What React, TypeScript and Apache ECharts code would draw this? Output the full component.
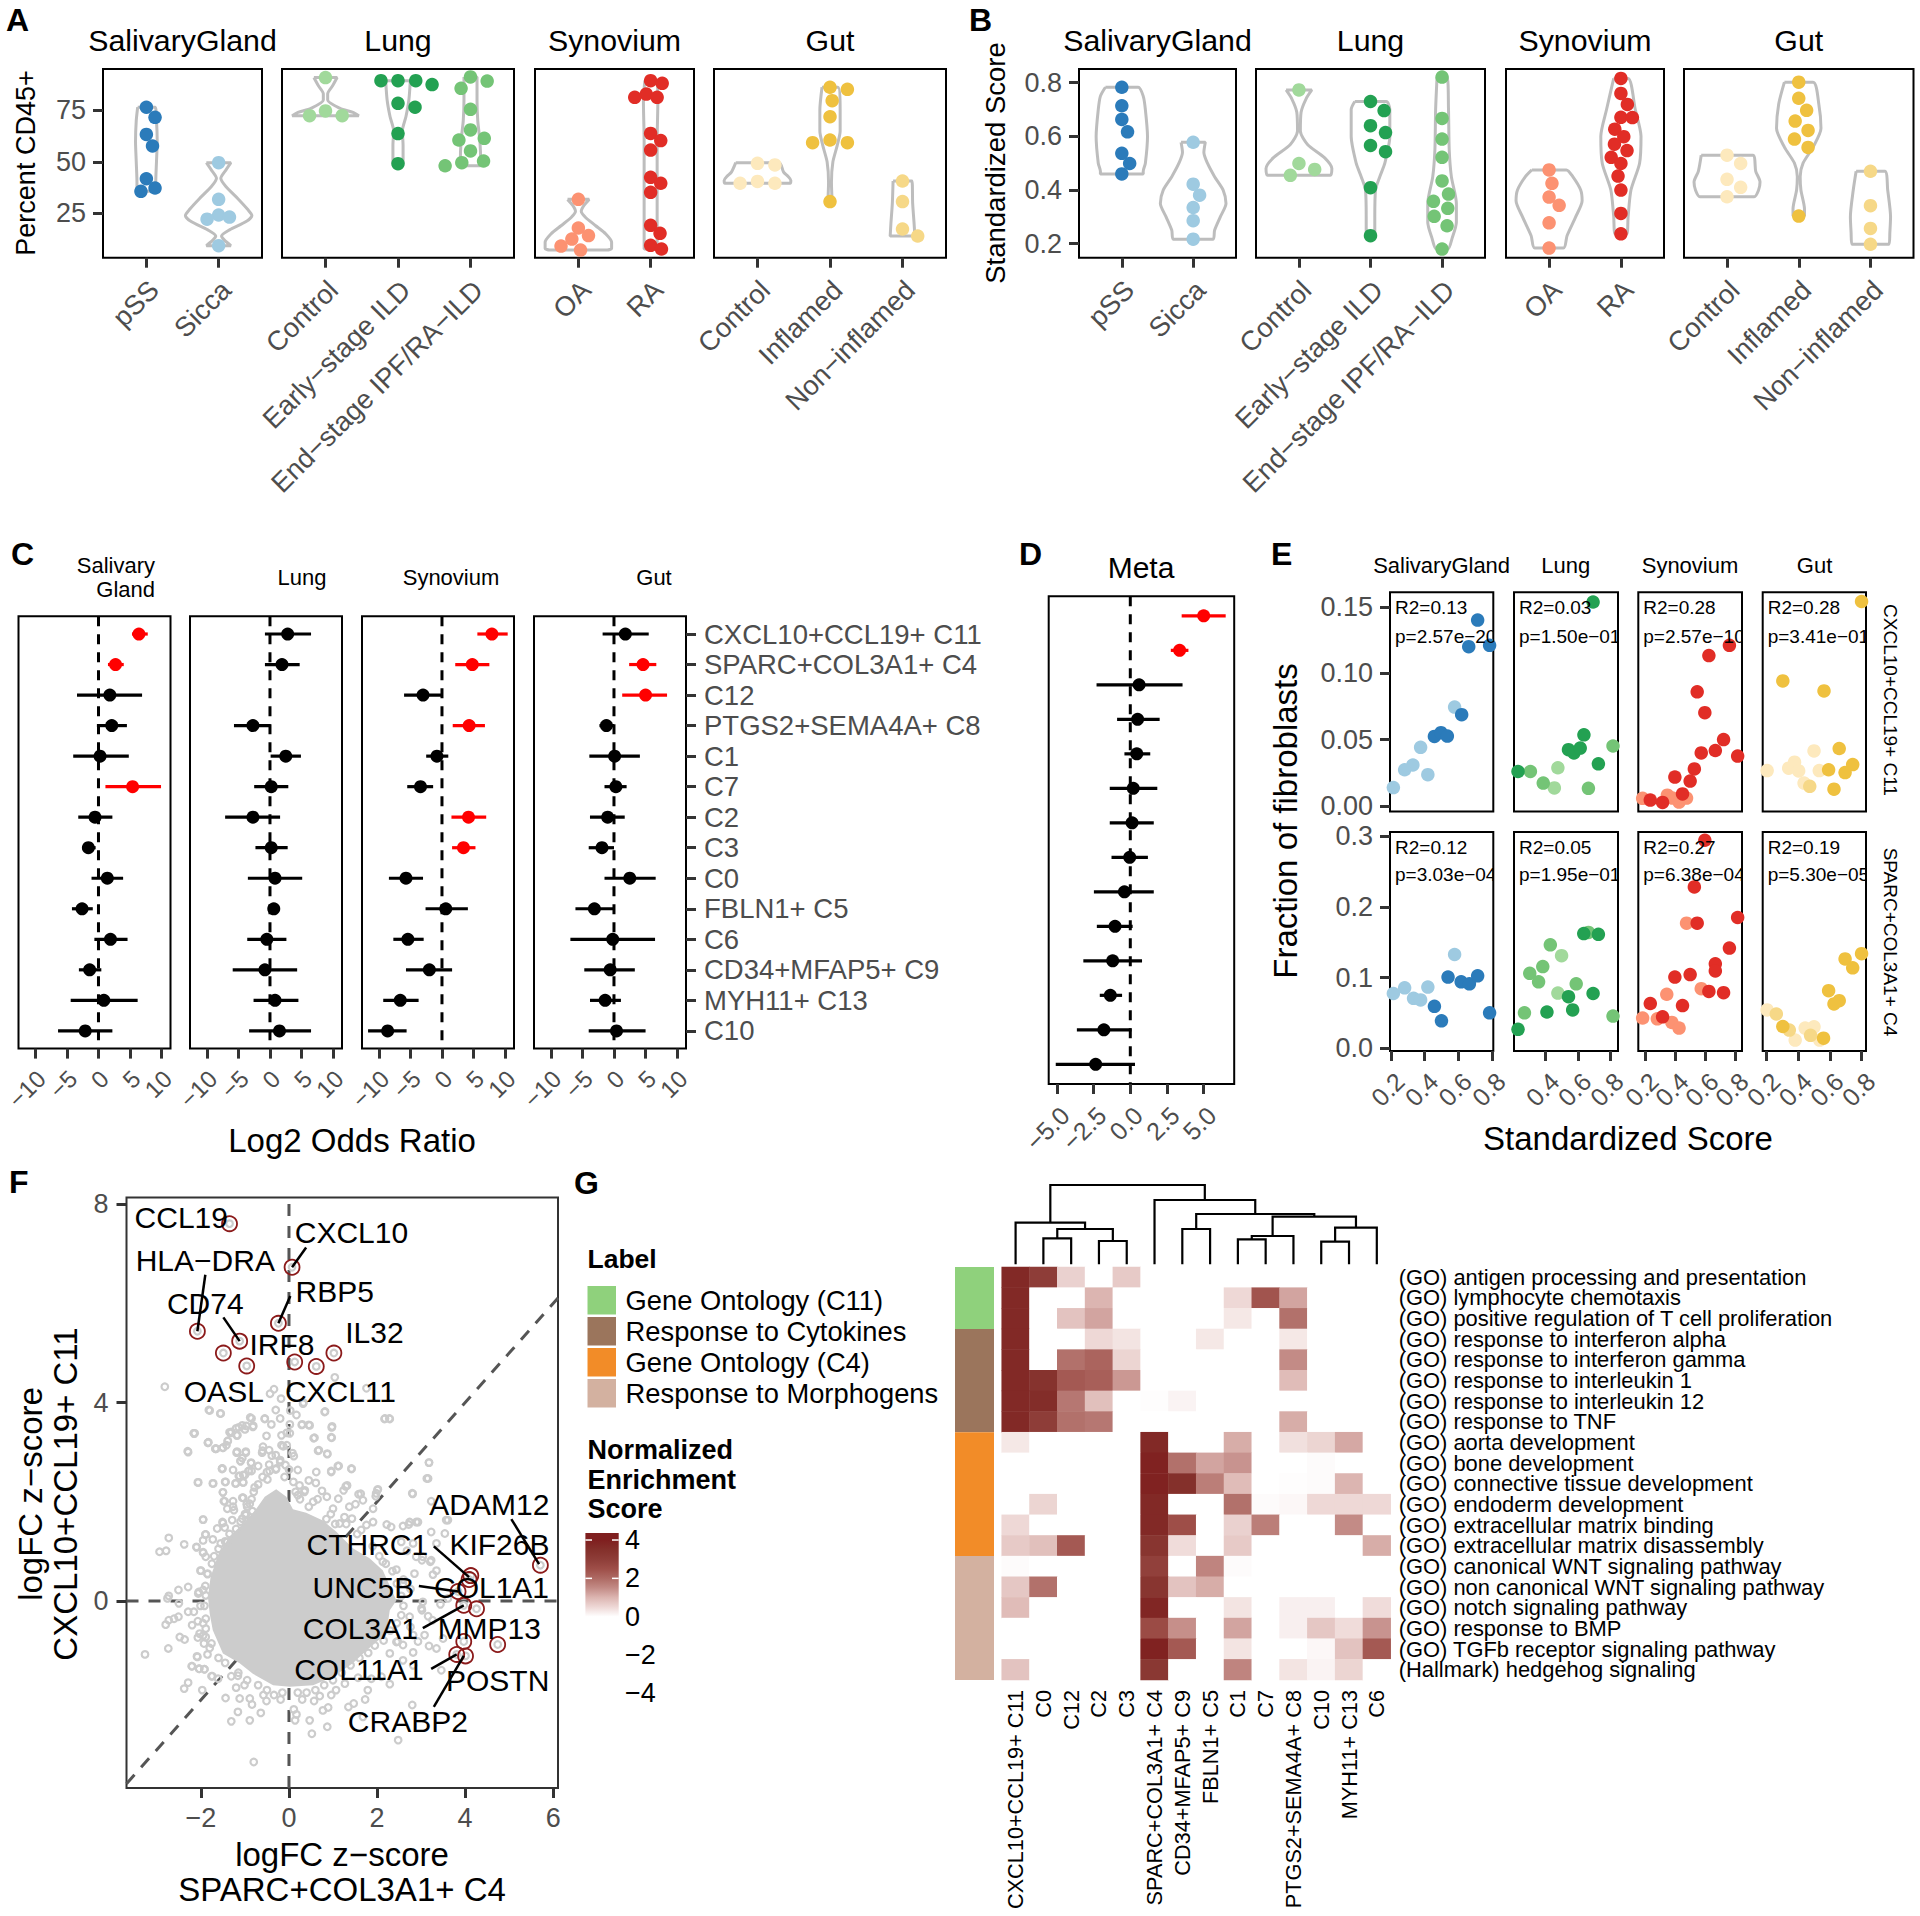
import React, { useEffect, useRef } from "react";
import * as echarts from "echarts";

const FONT = "Liberation Sans, Arial, sans-serif";
const MINUS = "\u2212";

const tissueTitles = ["SalivaryGland", "Lung", "Synovium", "Gut"];
const conditionLabels = [
  ["pSS", "Sicca"],
  ["Control", "Early\u2212stage ILD", "End\u2212stage IPF/RA\u2212ILD"],
  ["OA", "RA"],
  ["Control", "Inflamed", "Non\u2212inflamed"],
];
const conditionColors = [
  ["#2b7bba", "#9ecae1"],
  ["#a1d99b", "#23a152", "#74c476"],
  ["#fc9272", "#e12d26"],
  ["#fde9bd", "#efc13f", "#f6d887"],
];

// Panel A: [offset from the category, percent CD45+]
const aSalivaryPoints = [
  [[0, 76.5], [0.12, 71.6], [0, 63.3], [0.085, 57.7], [0, 41.8], [0.12, 37.3], [-0.075, 35.7]],
  [[0, 49.6], [0, 31.8], [0, 24.2], [-0.16, 22.2], [0.15, 23.2], [0, 9.3]],
];
const aLungPoints = [
  [[0, 90.9], [-0.22, 72.4], [0, 74.7], [0.23, 72.4]],
  [[-0.235, 89.4], [0, 89.4], [0.245, 89.4], [0.47, 87.5], [0, 78.4], [0.235, 76.5], [0, 63.7], [0, 49.1]],
  [[0, 91.2], [0.23, 89.2], [-0.13, 85.7], [0, 75.5], [0, 65.5], [-0.16, 60.6], [0.19, 61.4], [0, 55.3], [-0.12, 49.6], [0.18, 50.4], [-0.35, 48.1]],
];
const aSynoviumPoints = [
  [[0, 31.8], [0, 17.9], [0.14, 14.2], [-0.09, 12.5], [-0.24, 9.1], [0.03, 7.2]],
  [[0, 89.4], [0.16, 88.1], [-0.06, 82.9], [-0.22, 81.3], [0.09, 81.3], [0, 63.8], [0.14, 60.3], [0, 55.7], [0, 42.5], [0.14, 39.6], [0, 35.2], [0, 19.2], [0.13, 15.3], [0, 9.5], [0.15, 7.7]],
];
const aGutPoints = [
  [[0, 49.3], [0.24, 48.5], [-0.24, 39.6], [0, 40.5], [0.24, 39.6]],
  [[0, 86.2], [0.24, 85.2], [0.03, 79.7], [0, 71.9], [0, 60.6], [-0.24, 59.3], [0.24, 59.3], [0, 30.7]],
  [[0, 40.7], [0, 30.7], [0, 17.4], [0.21, 14]],
];
// Violin outlines: [value, half width]
const aSalivaryViolins = [
  [[76.5, 0.12], [70, 0.14], [60, 0.15], [50, 0.14], [40, 0.13], [35.7, 0.13]],
  [[49.6, 0.17], [46, 0.1], [42, 0.03], [38, 0.1], [32, 0.27], [27, 0.4], [24, 0.46], [21, 0.38], [17, 0.15], [14, 0.04], [12, 0.08], [9.3, 0.17]],
];
const aLungViolins = [
  [[90.9, 0.16], [87, 0.1], [83, 0.03], [80, 0.03], [76, 0.2], [74, 0.38], [72.4, 0.46]],
  [[89.4, 0.17], [80, 0.15], [72, 0.11], [65, 0.06], [58, 0.07], [49.1, 0.07]],
  [[91.2, 0.09], [80, 0.09], [70, 0.1], [60, 0.13], [50, 0.14], [48.1, 0.14]],
];
const aSynoviumViolins = [
  [[31.8, 0.15], [29, 0.08], [26, 0.04], [23, 0.1], [19, 0.24], [15, 0.38], [11, 0.46], [8, 0.46], [7.2, 0.4]],
  [[89.4, 0.08], [80, 0.1], [60, 0.09], [40, 0.09], [20, 0.09], [7.7, 0.09]],
];
const aGutViolins = [
  [[49.6, 0.3], [45, 0.36], [43, 0.42], [41, 0.46], [39.6, 0.45]],
  [[86.2, 0.11], [75, 0.14], [65, 0.14], [58, 0.1], [50, 0.04], [40, 0.02], [30.7, 0.03]],
  [[40.7, 0.13], [30, 0.14], [20, 0.16], [14, 0.17]],
];

// Panel B
const bSalivaryPoints = [
  [[0, 0.783], [0, 0.714], [0, 0.663], [0.08, 0.617], [0, 0.537], [0.11, 0.499], [0, 0.46]],
  [[0, 0.578], [0, 0.422], [0.09, 0.381], [0, 0.335], [0, 0.286], [0, 0.217]],
];
const bLungPoints = [
  [[0, 0.773], [0, 0.499], [0.22, 0.477], [-0.12, 0.455]],
  [[0, 0.73], [0.19, 0.696], [0, 0.64], [0.21, 0.614], [0, 0.566], [0.21, 0.543], [0, 0.409], [0, 0.23]],
  [[0, 0.821], [0, 0.667], [0, 0.59], [0, 0.522], [0, 0.434], [0.09, 0.385], [-0.12, 0.358], [0.08, 0.332], [-0.11, 0.302], [0.07, 0.267], [0, 0.18]],
];
const bSynoviumPoints = [
  [[0, 0.475], [0.04, 0.425], [0, 0.374], [0.14, 0.343], [0, 0.278], [0, 0.184]],
  [[0, 0.816], [0, 0.76], [0.09, 0.719], [0, 0.671], [0.16, 0.67], [-0.085, 0.627], [0.04, 0.599], [-0.09, 0.571], [0.085, 0.547], [-0.135, 0.522], [0, 0.499], [-0.04, 0.452], [0, 0.4], [0, 0.313], [0, 0.237]],
];
const bGutPoints = [
  [[0, 0.53], [0.19, 0.499], [0, 0.44], [0.19, 0.41], [0, 0.375]],
  [[0, 0.802], [0, 0.742], [0.11, 0.697], [-0.05, 0.657], [0.13, 0.622], [-0.06, 0.59], [0.13, 0.559], [0, 0.303]],
  [[0, 0.47], [0, 0.342], [0, 0.257], [0, 0.198]],
];
const bSalivaryViolins = [
  [[0.783, 0.23], [0.75, 0.3], [0.7, 0.33], [0.6, 0.36], [0.5, 0.33], [0.47, 0.3], [0.46, 0.3]],
  [[0.578, 0.17], [0.54, 0.15], [0.5, 0.2], [0.45, 0.3], [0.4, 0.42], [0.35, 0.46], [0.3, 0.38], [0.25, 0.3], [0.217, 0.28]],
];
const bLungViolins = [
  [[0.773, 0.18], [0.74, 0.1], [0.69, 0.03], [0.62, 0.02], [0.57, 0.12], [0.52, 0.36], [0.48, 0.46], [0.455, 0.44]],
  [[0.73, 0.22], [0.7, 0.27], [0.6, 0.27], [0.5, 0.2], [0.45, 0.13], [0.4, 0.07], [0.3, 0.06], [0.23, 0.06]],
  [[0.821, 0.07], [0.7, 0.09], [0.55, 0.1], [0.45, 0.13], [0.35, 0.2], [0.28, 0.2], [0.22, 0.14], [0.18, 0.08]],
];
const bSynoviumViolins = [
  [[0.475, 0.24], [0.45, 0.33], [0.4, 0.44], [0.36, 0.46], [0.3, 0.37], [0.23, 0.25], [0.184, 0.2]],
  [[0.816, 0.1], [0.7, 0.2], [0.6, 0.28], [0.5, 0.26], [0.4, 0.14], [0.3, 0.1], [0.237, 0.08]],
];
const bGutViolins = [
  [[0.53, 0.36], [0.47, 0.4], [0.43, 0.46], [0.4, 0.44], [0.375, 0.38]],
  [[0.802, 0.2], [0.72, 0.28], [0.63, 0.31], [0.56, 0.2], [0.5, 0.06], [0.45, 0.02], [0.4, 0.03], [0.33, 0.08], [0.303, 0.08]],
  [[0.47, 0.2], [0.4, 0.24], [0.3, 0.28], [0.24, 0.27], [0.198, 0.26]],
];

// Panels C and D
const clusterLabels = [
  "CXCL10+CCL19+ C11", "SPARC+COL3A1+ C4", "C12", "PTGS2+SEMA4A+ C8", "C1", "C7", "C2", "C3", "C0",
  "FBLN1+ C5", "C6", "CD34+MFAP5+ C9", "MYH11+ C13", "C10",
];
// [estimate, low, high, significant]
const cSalivary = [
  [6.4, 5.3, 7.8, 1], [2.7, 1.5, 4.0, 1], [1.8, -3.4, 6.9, 0], [2.1, -0.25, 4.5, 0], [0.25, -4, 4.8, 0],
  [5.4, 1.1, 9.9, 1], [-0.55, -3.2, 2.2, 0], [-1.6, -2.6, -0.45, 0], [1.4, -1.1, 3.9, 0], [-2.6, -4.2, -0.9, 0],
  [1.9, -0.65, 4.6, 0], [-1.4, -3.1, 0.45, 0], [0.85, -4.4, 6.2, 0], [-2.1, -6.4, 2.2, 0],
];
const cLung = [
  [2.8, -0.8, 6.5, 0], [1.9, -0.8, 4.7, 0], null, [-2.7, -5.7, 0.1, 0], [2.5, 0.1, 4.9, 0],
  [0.2, -2.5, 2.9, 0], [-2.7, -7.1, 1.6, 0], [0.2, -2.3, 2.8, 0], [0.8, -3.5, 5.1, 0], [0.6, 0.2, 1.1, 0],
  [-0.5, -3.6, 2.6, 0], [-0.8, -5.9, 4.3, 0], [0.8, -2.6, 4.5, 0], [1.5, -3.3, 6.5, 0],
];
const cSynovium = [
  [7.9, 5.6, 10.4, 1], [4.8, 2.1, 7.5, 1], [-3, -6, 0.1, 0], [4.3, 1.7, 6.8, 1], [-0.8, -2.5, 1, 0],
  [-3.4, -5.5, -1.4, 0], [4.2, 1.5, 7, 1], [3.4, 1.6, 5.3, 1], [-5.7, -8.4, -3, 0], [0.6, -2.6, 4.1, 0],
  [-5.4, -7.7, -2.9, 0], [-2, -5.7, 1.6, 0], [-6.6, -9.3, -3.7, 0], [-8.6, -11.7, -5.6, 0],
];
const cGut = [
  [1.8, -1.8, 5.5, 0], [4.6, 2.4, 6.7, 1], [5, 1.3, 8.4, 1], [-1.2, -2.3, 0, 0], [0.1, -3.9, 4.1, 0],
  [0.3, -1.5, 2, 0], [-1, -3.8, 1.7, 0], [-1.9, -4, 0, 0], [2.5, -1.5, 6.6, 0], [-3.1, -6.1, 0, 0],
  [-0.2, -6.9, 6.5, 0], [-0.6, -4.7, 3.3, 0], [-1.4, -3.8, 1.1, 0], [0.4, -4, 5, 0],
];
const dMeta = [
  [5, 3.5, 6.5, 1], [3.36, 2.76, 3.96, 1], [0.6, -2.3, 3.56, 0], [0.5, -0.9, 2, 0], [0.44, -0.4, 1.36, 0],
  [0.2, -1.4, 1.84, 0], [0.12, -1.4, 1.6, 0], [-0.04, -1.28, 1.2, 0], [-0.4, -2.48, 1.6, 0], [-1.04, -2.28, 0.16, 0],
  [-1.2, -3.2, 0.8, 0], [-1.36, -2.08, -0.56, 0], [-1.8, -3.64, 0.08, 0], [-2.36, -5.08, 0.32, 0],
];
const cTicks = [-10, -5, 0, 5, 10];
const dTicks = [-5, -2.5, 0, 2.5, 5];

// Panel E: [standardized score, fraction], one list per colour
const eTopSalivary = [
  [[0.715, 0.14], [0.662, 0.12], [0.786, 0.121], [0.62, 0.0688], [0.458, 0.0524], [0.497, 0.0552], [0.535, 0.0527]],
  [[0.578, 0.0745], [0.376, 0.0442], [0.33, 0.0309], [0.281, 0.0273], [0.419, 0.0236], [0.214, 0.0139]],
];
const eTopLung = [
  [[0.695, 0.1536], [0.638, 0.0536], [0.728, 0.0318], [0.542, 0.0424], [0.576, 0.04], [0.615, 0.0436], [0.228, 0.026]],
  [[0.819, 0.0452], [0.666, 0.0133], [0.305, 0.026], [0.385, 0.0173]],
  [[0.476, 0.0288], [0.454, 0.0136]],
];
const eTopSynovium = [
  [[0.763, 0.121], [0.626, 0.1133], [0.548, 0.086], [0.599, 0.0703], [0.724, 0.05], [0.669, 0.0418], [0.575, 0.04], [0.818, 0.0376], [0.529, 0.0279], [0.399, 0.0218], [0.501, 0.0188], [0.45, 0.0091], [0.235, 0.0045], [0.317, 0.0027]],
  [[0.184, 0.0058], [0.349, 0.0082], [0.383, 0.006], [0.427, 0.003], [0.477, 0.006]],
];
const eTopGut = [
  [[0.799, 0.154], [0.302, 0.0942], [0.562, 0.0867], [0.658, 0.0433], [0.591, 0.0273], [0.743, 0.0312], [0.695, 0.0252], [0.625, 0.0127]],
  [[0.472, 0.0148]],
  [[0.203, 0.0267], [0.339, 0.0285], [0.376, 0.033], [0.402, 0.0264], [0.499, 0.0415], [0.532, 0.0267], [0.436, 0.0173]],
];
const eBottomSalivary = [
  [[0.539, 0.1007], [0.617, 0.0939], [0.666, 0.0911], [0.715, 0.1024], [0.458, 0.0592], [0.5, 0.0387], [0.786, 0.0501]],
  [[0.578, 0.1326], [0.214, 0.0774], [0.281, 0.0854], [0.334, 0.0706], [0.376, 0.0683], [0.419, 0.0865]],
];
const eBottomLung = [
  [[0.637, 0.1622], [0.728, 0.1611], [0.695, 0.0774], [0.542, 0.0729], [0.568, 0.0541], [0.408, 0.0512], [0.228, 0.0267]],
  [[0.666, 0.1639], [0.429, 0.1463], [0.382, 0.1155], [0.301, 0.1059], [0.356, 0.0939], [0.59, 0.0911], [0.268, 0.0501], [0.819, 0.0455]],
  [[0.499, 0.1309], [0.476, 0.078]],
];
const eBottomSynovium = [
  [[0.599, 0.2943], [0.529, 0.2282], [0.548, 0.177], [0.818, 0.185], [0.763, 0.1417], [0.669, 0.1195], [0.669, 0.1093], [0.501, 0.1042], [0.399, 0.1007], [0.724, 0.0785], [0.626, 0.0803], [0.45, 0.0603], [0.235, 0.0632], [0.317, 0.0444]],
  [[0.477, 0.177], [0.575, 0.0842], [0.345, 0.0763], [0.184, 0.0427], [0.282, 0.0415], [0.379, 0.0364], [0.427, 0.0285]],
];
const eBottomGut = [
  [[0.799, 0.1338], [0.695, 0.1264], [0.743, 0.1138], [0.591, 0.0814], [0.658, 0.0672], [0.625, 0.0626], [0.302, 0.0307], [0.559, 0.0142]],
  [[0.261, 0.0484], [0.343, 0.0256], [0.477, 0.0182]],
  [[0.203, 0.0541], [0.443, 0.0285], [0.499, 0.0302], [0.38, 0.0114], [0.535, 0.0114]],
];
const eTopStats = [
  ["R2=0.13", "p=2.57e\u221220"], ["R2=0.03", "p=1.50e\u221201"], ["R2=0.28", "p=2.57e\u221210"], ["R2=0.28", "p=3.41e\u221201"],
];
const eBottomStats = [
  ["R2=0.12", "p=3.03e\u221204"], ["R2=0.05", "p=1.95e\u221201"], ["R2=0.27", "p=6.38e\u221204"], ["R2=0.19", "p=5.30e\u221205"],
];
const eScoreTicks = [0.2, 0.4, 0.6, 0.8];
const eTopTicks = [0, 0.05, 0.1, 0.15];
const eBottomTicks = [0, 0.1, 0.2, 0.3];

// Panel F: solid core of the gene cloud, then genes read one by one
const fCoreOutline = [
  [-1.8, -0.26], [-1.84, 0.08], [-1.78, 0.48], [-1.6, 0.95], [-1.35, 1.3], [-1.05, 1.55], [-0.75, 1.85], [-0.55, 2.1], [-0.29, 2.25], [-0.06, 2.1],
  [0.09, 1.85], [0.39, 1.78], [0.77, 1.62], [1.07, 1.4], [1.45, 1.06], [1.83, 0.86], [2.13, 0.62], [2.44, 0.01], [2.29, -0.19], [2.21, -0.66],
  [1.76, -1], [1.45, -1.26], [1, -1.53], [0.55, -1.7], [0.02, -1.73], [-0.36, -1.7], [-0.82, -1.47], [-1.12, -1.26], [-1.5, -1.06], [-1.73, -0.59],
];
const fCloudFar = [
  [-2.82, 4.32], [-1.8, 3.84], [-1.55, 3.78], [-2.14, 3.38], [-2.29, 3.0], [-1.83, 3.2], [-1.65, 3.07], [-1.42, 3.14], [-1.31, 3.41], [-1.14, 3.5],
  [-0.97, 3.53], [-0.81, 3.53], [-0.85, 3.68], [-0.55, 3.68], [-0.34, 4.27], [-0.43, 4.18], [-0.18, 4.08], [0.03, 3.84], [0.33, 4.0], [0.82, 3.82],
  [1.04, 4.51], [1.76, 4.29], [2.18, 3.68], [2.28, 3.68], [0.97, 3.5], [0.97, 3.29], [0.45, 3.55], [0.29, 3.55], [0.58, 3.29], [0.66, 3.03],
  [0.87, 2.96], [-0.13, 3.12], [-0.05, 3.39], [0.08, 2.98], [1.42, 2.66], [1.13, 2.72], [0.96, 2.62], [3.18, 2.79], [3.16, 2.47], [2.01, 2.24],
  [1.97, 2.11], [2.81, 2.16], [1.63, 2.16], [1.29, 2.31], [-1.52, 2.66], [-1.27, 2.64], [-1.06, 2.88], [-0.6, 3.03], [-0.39, 2.93], [-0.85, 2.62],
  [3.61, 0.05], [3.44, -0.07], [3.27, 0.53], [3.02, 0.82], [3.23, 0.82], [2.68, 1.01], [2.93, 1.59], [2.72, 1.54], [3.61, 1.63], [2.22, 1.54],
  [2.93, -0.82], [3.18, -0.91], [3.35, -0.96], [3.02, -0.19], [2.6, 0.43], [2.76, 0.24], [2.55, -0.29], [2.76, -0.53], [2.47, -0.82],
];
const fCloudUpper = [
  [-1.82, 3.85], [-1.56, 3.78], [-0.88, 3.7], [-0.55, 3.67], [-0.3, 3.85], [0.17, 3.75], [0.81, 3.81], [0.32, 3.98], [-0.2, 3.68], [0.02, 3.56],
  [-0.4, 3.56], [0.3, 3.56], [0.47, 3.54], [0.98, 3.52], [0.96, 3.3], [0.56, 3.28], [2.17, 3.67], [2.29, 3.67], [-2.16, 3.38], [-1.35, 3.4],
  [-1.2, 3.48], [-1.06, 3.54], [-0.82, 3.51], [-1.17, 3.34], [-1, 3.46], [-0.51, 3.33], [-0.17, 3.34], [0.02, 3.38], [-1.84, 3.19], [-1.67, 3.07],
  [-1.5, 3.09], [-1.39, 3.22], [-1.18, 3.01], [-0.98, 3.01], [-0.59, 3.11], [-0.17, 3.14], [-0.05, 3.14], [-0.45, 3.04], [-0.61, 2.99], [-0.3, 2.94],
  [0.68, 3.04], [0.87, 2.97], [0.11, 2.92], [-1.1, 2.82], [-0.86, 2.79], [-0.2, 2.84], [-0.08, 2.74], [-0.7, 2.72], [-1.52, 2.67], [-0.91, 2.62],
  [1.11, 2.72], [1.42, 2.67], [0.96, 2.6], [0.62, 2.6], [0.2, 2.64], [-0.44, 2.62], [-0.29, 2.67], [3.18, 2.79], [3.13, 2.47], [-1.12, 2.52],
  [-1, 2.54], [-0.49, 2.45], [-1.45, 2.4], [-1.73, 2.37], [-2.07, 2.39], [-1.21, 2.37], [-1.04, 2.39], [0.24, 2.33], [0.45, 2.43], [0.61, 2.38],
  [1.32, 2.33], [-1.5, 2.19], [-0.78, 2.29], [0.36, 2.23], [0.75, 2.22], [1.24, 2.23], [2.02, 2.25], [1.98, 2.17], [2.8, 2.17], [1.58, 2.15],
  [-1.04, 2.08], [-1.46, 2.01], [1.12, 2.06], [0.86, 2.1], [1.68, 2.03], [-1.27, 1.9], [-0.89, 1.96], [0.2, 2.13], [0.55, 2], [1.51, 1.95],
  [1.37, 1.9], [3.23, 2.01], [1, 1.86], [1.91, 1.86], [-1.95, 1.64], [1.26, 1.69], [1.43, 1.66], [-1.5, 1.57], [1.15, 1.56], [1.76, 1.53],
  [1.91, 1.59], [2.89, 1.59], [2.74, 1.59], [2.59, 1.51], [2.32, 1.49], [3.57, 1.63], [-1.9, 1.34], [1.64, 1.43], [3.23, 1.39], [-2.1, 1.09],
  [-1.95, 0.97], [2.82, 1.16], [2.55, 1.19], [3.54, 1.36], [3.35, 1.16], [-2, 0.61], [2.89, 0.89], [3.04, 0.89], [3.21, 0.79], [2.13, 0.79],
  [2.44, 0.63], [3.35, 0.61], [2.85, 0.55], [2.59, 0.35], [-2.05, 0.18], [3.04, -0.02],
];
const fCloudLeft = [
  [-2.16, 3.38], [-1.84, 3.19], [-2.3, 3.02], [-1.67, 3.07], [-1.5, 3.09], [-1.39, 3.23], [-1.32, 3.39], [-1.19, 3.34], [-1.19, 2.99], [-0.98, 2.99],
  [-1.1, 2.82], [-0.86, 2.78], [-1.51, 2.67], [-0.92, 2.62], [-1.14, 2.52], [-1.04, 2.54], [-2.06, 2.39], [-1.72, 2.37], [-1.44, 2.4], [-1.21, 2.37],
  [-1.04, 2.39], [-1.5, 2.19], [-1.48, 2.01], [-1.27, 2.01], [-1.06, 2.08], [-0.96, 1.95], [-1.4, 1.86], [-1.25, 1.83], [-0.83, 1.81], [-1.95, 1.64],
  [-1.51, 1.59], [-1.06, 1.66], [-0.98, 1.73], [-1.29, 1.63], [-1.63, 1.46], [-1.46, 1.48], [-1.89, 1.34], [-1.95, 1.22], [-1.73, 1.24], [-1.55, 1.16],
  [-1.4, 1.19], [-2.73, 1.27], [-2.38, 1.14], [-2.94, 0.99], [-2.79, 1.01], [-2.1, 1.08], [-1.95, 0.98], [-1.89, 0.89], [-2.01, 0.61], [-1.85, 0.54],
  [-2.51, 0.22], [-2.29, 0.28], [-2.73, 0.1], [-2.76, 0.05], [-2.06, 0.15], [-1.95, 0.22], [-1.89, 0.11], [-2.5, -0.05], [-2.01, -0.1], [-2.29, -0.22],
  [-2.16, -0.22], [-2.51, -0.32], [-2.73, -0.39], [-2.8, -0.48], [-2.61, -0.36], [-1.89, -0.36], [-2.07, -0.41], [-2.2, -0.49], [-1.89, -0.56], [-2.03, -0.66],
  [-2.48, -0.73], [-2.37, -0.78], [-2.07, -0.74], [-1.89, -0.73], [-1.93, -0.86], [-1.76, -0.86], [-2.74, -0.96], [-3.27, -1.08], [-1.85, -1.08], [-2.08, -1.13],
  [-2.21, -1.32], [-2.04, -1.37], [-1.92, -1.38], [-1.76, -1.52], [-2.29, -1.65], [-2.38, -1.77],
];
const fCloudLower = [
  [-2.09, -1.12], [-2.2, -1.32], [-2.04, -1.37], [-1.92, -1.38], [-1.74, -1.52], [-1.61, -1.57], [-1.31, -1.52], [-1.16, -1.51], [-1.97, -1.8], [-1.44, -1.96],
  [-1.2, -1.75], [-1.01, -1.7], [-1.12, -1.97], [-0.89, -1.97], [-0.84, -2.09], [-0.58, -1.9], [-0.51, -2.02], [-0.34, -1.9], [-0.19, -1.99], [-1.16, -2.24],
  [-1.31, -2.43], [-0.89, -2.41], [-0.64, -2.26], [-0.8, -3.25], [0.11, -2.19], [0.17, -2.29], [0.14, -2.41], [0.3, -1.99], [0.57, -2.02], [0.7, -1.92],
  [0.47, -2.41], [0.77, -2.21], [0.89, -2.15], [0.87, -2.54], [0.52, -2.68], [1.35, -2.14], [1.47, -2.07], [1.73, -1.99], [1.79, -1.8], [1.07, -1.8],
  [0.96, -1.9], [1.27, -1.67], [1.57, -1.55], [1.87, -1.57], [2.1, -1.53], [2.29, -1.68], [2.48, -2.81], [2.8, -2.1], [2.59, -1.2], [2.29, -1.06],
  [2.82, -1.04], [2.59, -0.89], [2.44, -0.83], [2.82, -0.69], [3.08, -0.69], [2.74, -0.32], [3.16, -0.31], [3.01, -0.15], [3.26, -0.39], [3.5, -0.76],
  [3.46, -1.4], [2.82, -1.3], [1.68, -2.34],
];
const fCloudEdge = [
  [-1.7, 0.9], [-1.6, 1.05], [-1.45, 1.2], [-1.35, 1.35], [-1.2, 1.45], [-1.1, 1.6], [-1, 1.75], [-0.95, 1.9], [-0.85, 2.05], [-0.8, 2.2],
  [-0.7, 2.35], [-0.6, 2.5], [-0.5, 2.6], [-0.45, 2.75], [-0.3, 2.65], [-0.2, 2.8], [-0.1, 2.5], [0, 2.65], [0.1, 2.4], [0.15, 2.2],
  [0.25, 2.05], [0.35, 2.2], [0.45, 1.9], [0.65, 2.05], [0.85, 1.65], [0.95, 1.75], [1.05, 1.55], [1.3, 1.55], [1.55, 1.35], [1.9, 1.1],
  [2.05, 0.9], [2.2, 0.75], [2.35, 0.6], [2.45, 0.35], [2.55, 0.1], [2.6, -0.1], [2.45, -0.45], [2.3, -0.6], [2.15, -0.8], [1.95, -0.9],
  [1.8, -1.05], [1.6, -1.15], [1.4, -1.3], [1.2, -1.45], [1, -1.6], [0.8, -1.7], [0.6, -1.8], [0.4, -1.85], [0.2, -1.85], [-0.15, -1.85],
  [-0.5, -1.8], [-0.7, -1.7], [-0.95, -1.6], [-1.15, -1.45], [-1.45, -1.25], [-1.6, -1.15], [-1.8, -0.95], [-1.95, -0.7], [-1.95, -0.45], [-1.92, -0.1],
  [-1.9, 0.3], [-1.85, 0.55], [-1.75, 0.75],
];
const fHighlighted = [
  [-1.35, 7.61], [0.07, 6.73], [-0.24, 5.6], [-2.08, 5.44], [-1.12, 5.24], [-1.49, 5.0], [-0.96, 4.74], [0.13, 4.82], [0.62, 4.73], [1.02, 5.0],
  [5.71, 0.72], [4.13, 0.51], [4.09, 0.43], [3.84, 0.19], [3.97, -0.09], [4.26, -0.16], [4.74, -0.88], [3.97, -0.82], [3.81, -1.08], [4.01, -1.11],
];
const fGeneNames = ["CCL19", "CXCL10", "HLA\u2212DRA", "RBP5", "CD74", "IL32", "IRF8", "OASL", "CXCL11", "ADAM12", "CTHRC1", "KIF26B", "UNC5B", "COL1A1", "COL3A1", "MMP13", "COL11A1", "POSTN", "CRABP2"];
const fGeneX = [-2.445, 1.42, -1.9, 1.04, -1.9, 1.94, -0.16, -1.48, 1.17, 4.55, 1.78, 4.78, 1.69, 4.6, 1.62, 4.55, 1.59, 4.74, 2.7];
const fGeneY = [7.73, 7.44, 6.87, 6.24, 6.0, 5.41, 5.18, 4.22, 4.22, 1.95, 1.13, 1.13, 0.28, 0.28, -0.55, -0.55, -1.39, -1.61, -2.43];
const fConnectors = [
  [-1.9, 6.58, -2.08, 5.44], [-1.49, 5.72, -1.12, 5.24], [0.39, 7.13, 0.07, 6.73], [0.03, 6.15, -0.24, 5.6], [5.05, 1.65, 5.68, 0.74],
  [3.29, 1.1, 4.09, 0.48], [2.95, 0.3, 3.84, 0.19], [3.04, -0.55, 3.97, -0.09], [3.23, -1.37, 3.81, -1.08], [3.29, -2.14, 3.97, -1.11],
];

// Panel G
const heatColumns = [
  "CXCL10+CCL19+ C11", "C0", "C12", "C2", "C3", "SPARC+COL3A1+ C4", "CD34+MFAP5+ C9", "FBLN1+ C5", "C1", "C7", "PTGS2+SEMA4A+ C8", "C10", "MYH11+ C13", "C6",
];
const heatRows = [
  "(GO) antigen processing and presentation", "(GO) lymphocyte chemotaxis", "(GO) positive regulation of T cell proliferation",
  "(GO) response to interferon alpha", "(GO) response to interferon gamma", "(GO) response to interleukin 1", "(GO) response to interleukin 12",
  "(GO) response to TNF", "(GO) aorta development", "(GO) bone development", "(GO) connective tissue development", "(GO) endoderm development",
  "(GO) extracellular matrix binding", "(GO) extracellular matrix disassembly", "(GO) canonical WNT signaling pathway",
  "(GO) non canonical WNT signaling pathway", "(GO) notch signaling pathway", "(GO) response to BMP", "(GO) TGFb receptor signaling pathway",
  "(Hallmark) hedgehog signaling",
];
const heatValues = [
  [3.7, 3.0, 0.6, 0, 0.7, 0, 0, 0, 0, 0, 0, 0, 0, 0],
  [3.7, 0, 0, 1.0, 0, 0, 0, 0, 0.5, 2.4, 1.2, 0, 0, 0],
  [3.7, 0, 0.8, 1.2, 0, 0, 0, 0, 0.3, 0, 1.9, 0, 0, 0],
  [3.7, 0, 0, 0.5, 0.35, 0, 0, 0.3, 0, 0, 0.3, 0, 0, 0],
  [3.7, 0, 1.9, 2.1, 0.55, 0, 0, 0, 0, 0, 1.5, 0, 0, 0],
  [3.7, 3.4, 2.3, 2.2, 1.35, 0, 0, 0, 0, 0, 0.9, 0, 0, 0],
  [3.7, 3.6, 1.8, 0.85, 0, 0.03, 0.15, 0, 0, 0, 0, 0, 0, 0],
  [3.7, 3.0, 1.9, 1.8, 0, 0, 0, 0, 0, 0, 1.1, 0, 0, 0],
  [0.3, 0, 0, 0, 0, 3.7, 0, 0, 1.1, 0, 0.4, 0.55, 1.15, 0],
  [0, 0, 0, 0, 0, 3.9, 1.9, 1.2, 1.4, 0, 0, 0.05, 0, 0],
  [0, 0, 0, 0, 0, 3.9, 3.5, 1.7, 0.9, 0, 0.02, 0.05, 1, 0],
  [0, 0.55, 0, 0, 0, 3.7, 0, 0, 1.9, 0.05, 0.1, 0.5, 0.5, 0.5],
  [0.5, 0, 0, 0, 0, 3.7, 2.5, 0, 0.6, 1.7, 0, 0, 1.5, 0],
  [0.7, 0.85, 2.3, 0, 0, 3.3, 0.45, 0, 0.7, 0, 0, 0, 0, 1.1],
  [0.05, 0, 0, 0, 0, 2.9, 0, 1.6, 0.05, 0, 0, 0, 0, 0],
  [0.75, 1.9, 0, 0, 0, 3.3, 0.8, 1.1, 0, 0, 0, 0, 0, 0],
  [0.9, 0, 0, 0, 0, 3.8, 0, 0, 0.35, 0, 0.2, 0.2, 0, 0.45],
  [0, 0, 0, 0, 0, 2.6, 1.45, 0, 1.2, 0, 0.2, 0.75, 0.45, 1.4],
  [0, 0, 0, 0, 0, 3.9, 2.3, 0, 0.35, 0, 0, 0.1, 0.8, 2.3],
  [0.8, 0, 0, 0, 0, 3.2, 0, 0, 1.6, 0, 0.35, 0.15, 0.55, 0],
];
const heatPalette = ["#ffffff", "#eed8d6", "#dcb5b1", "#c38b86", "#ae6a64", "#9e4e48", "#8e3d38", "#84302b", "#7f1f1f"];
const labelGroupNames = ["Gene Ontology (C11)", "Response to Cytokines", "Gene Ontology (C4)", "Response to Morphogens"];
const labelGroupRows = [[0, 3], [3, 8], [8, 14], [14, 20]];
const labelGroupColors = ["#8fd17c", "#9b755c", "#f28c28", "#d3b1a0"];
// [left leaf, left height, right leaf, right height, merge height]
const dendroMerges = [
  [1, 0, 2, 0, 78], [3, 0, 4, 0, 70], [1.5, 78, 3.5, 70, 106], [0, 0, 2.5, 106, 125],
  [6, 0, 7, 0, 106], [8, 0, 9, 0, 75], [8.5, 75, 10, 0, 85], [11, 0, 12, 0, 68], [11.5, 68, 13, 0, 110],
  [9.25, 85, 12.25, 110, 143], [6.5, 106, 10.75, 143, 151], [5, 0, 8.625, 151, 193], [1.25, 125, 6.81, 193, 238],
];
const scaleLabels = [4, 2, 0, -2, -4];

const minus = (v: any) => String(v).replace("-", MINUS);

export default function App() {
  const ref = useRef<HTMLDivElement>(null);
  useEffect(() => {
    document.body.style.margin = "0";
    const chart = echarts.init(ref.current!, undefined, { renderer: "svg" });

    const grids: any[] = [];
    const xAxes: any[] = [];
    const yAxes: any[] = [];
    const series: any[] = [];
    const graphics: any[] = [];

    const text = (t: string, x: number, y: number, size: number, o: any = {}) =>
      graphics.push({
        type: "text", x, y, rotation: o.rotation || 0, z: 100,
        style: {
          text: t, fontSize: size, fontFamily: FONT, fontWeight: o.weight || "normal", fill: o.fill || "#000",
          align: o.align || "center", verticalAlign: "middle", textAlign: o.align || "center", textVerticalAlign: "middle",
        },
      });

    const axis = (ticks: any, fmt: any, fontSize: number, extra: any, tickLen: number, tickW: number) => ({
      axisLine: { show: false, onZero: false },
      splitLine: { show: false },
      axisTick: { show: !!ticks, customValues: ticks, length: tickLen, lineStyle: { color: "#333", width: tickW } },
      axisLabel: {
        show: !!(ticks && fmt), customValues: ticks, formatter: fmt, fontSize, fontFamily: FONT, color: "#4d4d4d",
        hideOverlap: false, ...extra,
      },
    });

    const addPanel = (o: any) => {
      const i = grids.length;
      grids.push({ left: o.left, top: o.top, width: o.width, height: o.height, show: true, borderColor: o.border || "#000", borderWidth: 2, containLabel: false });
      xAxes.push({
        type: "value", gridIndex: i, min: o.xMin, max: o.xMax,
        ...axis(o.xTicks, o.xFmt, o.xSize || 27, o.xExtra || {}, o.tickLen || 10, o.tickW || 3),
      });
      yAxes.push({
        type: "value", gridIndex: i, min: o.yMin, max: o.yMax, inverse: !!o.yInverse, position: o.yPos || "left",
        ...axis(o.yTicks, o.yFmt, o.ySize || 27, { margin: o.yMargin || 17 }, o.tickLen || 10, o.tickW || 3),
      });
      return i;
    };

    // Rotated tick labels, placed through the axis scale
    const rotatedTicks = (idx: number, ticks: number[], fmt: any, size: number, bottom: number, dx: number, dy: number) => {
      const lo = xAxes[idx].min, hi = xAxes[idx].max;
      series.push({
        type: "custom", coordinateSystem: "cartesian2d", xAxisIndex: idx, yAxisIndex: idx, clip: false, z: 5,
        data: ticks.filter((t) => t >= lo && t <= hi).map((t) => [t, bottom]), encode: { x: 0, y: 1 },
        renderItem: (_: any, api: any) => {
          const c = api.coord([api.value(0), api.value(1)]);
          return {
            type: "text", x: c[0] + dx, y: c[1] + dy, rotation: Math.PI / 4,
            style: {
              text: fmt(api.value(0)), fontSize: size, fontFamily: FONT, fill: "#4d4d4d",
              align: "right", verticalAlign: "middle", textAlign: "right", textVerticalAlign: "middle",
            },
          };
        },
      });
    };

    // Panels A and B
    const violinPanels = (lefts: number[], widths: number[], ptsSets: any[], vioSets: any[], yMin: number, yMax: number, yTicks: number[], yFmt: any) => {
      tissueTitles.forEach((t, p) => {
        const labels = conditionLabels[p];
        const cats = labels.map((_, k) => k + 1);
        const idx = addPanel({
          left: lefts[p], top: 69, width: widths[p], height: 188.7, xMin: 0.4, xMax: labels.length + 0.6, yMin, yMax,
          xTicks: cats,
          yTicks: p === 0 ? yTicks : undefined, yFmt: p === 0 ? yFmt : undefined,
        });
        rotatedTicks(idx, cats, (v: number) => labels[v - 1], 27.4, yMin, 7.5, 27.5);
        text(t, lefts[p] + widths[p] / 2, 40, 30.3);
        labels.forEach((_, k) => {
          const c = k + 1;
          const outline = vioSets[p][k];
          const path = [
            ...outline.map(([v, h]: number[]) => [c - h, v]),
            ...[...outline].reverse().map(([v, h]: number[]) => [c + h, v]),
            [c - outline[0][1], outline[0][0]],
          ];
          series.push({
            type: "line", xAxisIndex: idx, yAxisIndex: idx, data: path, smooth: 0.25, showSymbol: false, symbol: "none", clip: false,
            lineStyle: { color: "#bdbdbd", width: 3 }, z: 2,
          });
          series.push({
            type: "scatter", xAxisIndex: idx, yAxisIndex: idx, symbolSize: 13.5, clip: false, z: 3,
            itemStyle: { color: conditionColors[p][k], opacity: 1 },
            data: ptsSets[p][k].map(([dx, v]: number[]) => [c + dx, v]),
          });
        });
      });
    };
    violinPanels([103, 282, 535, 714], [159, 232, 159, 232],
      [aSalivaryPoints, aLungPoints, aSynoviumPoints, aGutPoints], [aSalivaryViolins, aLungViolins, aSynoviumViolins, aGutViolins],
      3.48, 95.06, [25, 50, 75], (v: number) => String(v));
    violinPanels([1079, 1256, 1506, 1684], [157, 229, 158, 229.5],
      [bSalivaryPoints, bLungPoints, bSynoviumPoints, bGutPoints], [bSalivaryViolins, bLungViolins, bSynoviumViolins, bGutViolins],
      0.148, 0.851, [0.2, 0.4, 0.6, 0.8], (v: number) => v.toFixed(1));
    text("Percent CD45+", 26, 163, 27, { rotation: Math.PI / 2 });
    text("Standardized Score", 995, 163, 27.5, { rotation: Math.PI / 2 });

    // Panels C and D
    const rows = clusterLabels.map((_, i) => i + 1);
    const forest = (idx: number, values: any[], r: number) => {
      const data = values.map((d, i) => (d ? [i + 1, ...d] : null)).filter(Boolean);
      series.push({
        type: "line", xAxisIndex: idx, yAxisIndex: idx, showSymbol: false, symbol: "none", z: 1,
        lineStyle: { color: "#000", width: 3, type: [10, 8] },
        data: [[0, yAxes[idx].min], [0, yAxes[idx].max]],
      });
      series.push({
        type: "custom", coordinateSystem: "cartesian2d", xAxisIndex: idx, yAxisIndex: idx, data, clip: false, z: 3,
        encode: { x: [1, 2, 3], y: 0 },
        renderItem: (_: any, api: any) => {
          const row = api.value(0);
          const c = api.coord([api.value(1), row]);
          const a = api.coord([api.value(2), row]);
          const b = api.coord([api.value(3), row]);
          const color = api.value(4) ? "#ff0000" : "#000000";
          return {
            type: "group",
            children: [
              { type: "line", shape: { x1: a[0], y1: a[1], x2: b[0], y2: b[1] }, style: { stroke: color, lineWidth: 3.2 } },
              { type: "circle", shape: { cx: c[0], cy: c[1], r }, style: { fill: color } },
            ],
          };
        },
      });
    };
    [cSalivary, cLung, cSynovium, cGut].forEach((vals, p) => {
      const lefts = [18.5, 190, 362, 534];
      const idx = addPanel({
        left: lefts[p], top: 616.3, width: 152, height: 432.3, xMin: -12.66, xMax: 11.4, yMin: 0.42, yMax: 14.58, yInverse: true,
        xTicks: cTicks, yPos: "right",
        yTicks: p === 3 ? rows : undefined, yFmt: p === 3 ? (v: number) => clusterLabels[v - 1] : undefined, ySize: 27.5, yMargin: 18,
      });
      forest(idx, vals, 6.5);
      rotatedTicks(idx, cTicks, minus, 24, 14.58, 6, 26);
    });
    text("Salivary", 155, 565, 22, { align: "right" });
    text("Gland", 155, 589, 22, { align: "right" });
    text("Lung", 302, 577, 22);
    text("Synovium", 451, 577, 22);
    text("Gut", 654, 577, 22);
    text("Log2 Odds Ratio", 352, 1140, 33);

    const dIdx = addPanel({
      left: 1048.7, top: 596.2, width: 185.5, height: 487.8, xMin: -5.56, xMax: 7.08, yMin: 0.43, yMax: 14.57, yInverse: true,
      xTicks: dTicks,
    });
    forest(dIdx, dMeta, 6.5);
    rotatedTicks(dIdx, dTicks, (v: number) => minus(v.toFixed(1)), 25, 14.57, 8, 27);
    text("Meta", 1141, 567, 30);

    // Panel E
    const eLefts = [1390, 1514, 1638.3, 1762.7];
    const eWidths = [103.3, 104, 103.7, 103.3];
    const eXRanges = [[0.194, 0.808], [0.203, 0.85], [0.155, 0.847], [0.175, 0.827]];
    const eColors = [
      ["#2b7bba", "#9ecae1"],
      ["#23a152", "#74c476", "#a1d99b"],
      ["#e12d26", "#fc9272"],
      ["#efc13f", "#f6d887", "#fde9bd"],
    ];
    const scatterRow = (sets: any[], stats: string[][], top: number, height: number, yMin: number, yMax: number, yTicks: number[], yFmt: any, withX: boolean, s2: number) => {
      sets.forEach((groups: any[], p: number) => {
        const idx = addPanel({
          left: eLefts[p], top, width: eWidths[p], height, xMin: eXRanges[p][0], xMax: eXRanges[p][1], yMin, yMax,
          xTicks: withX ? eScoreTicks : undefined,
          yTicks: p === 0 ? yTicks : undefined, yFmt: p === 0 ? yFmt : undefined, tickLen: 10,
        });
        if (withX) rotatedTicks(idx, eScoreTicks, (v: number) => v.toFixed(1), 25, yMin, 9, 26);
        groups.forEach((pts: number[][], g: number) => {
          series.push({
            type: "scatter", xAxisIndex: idx, yAxisIndex: idx, symbolSize: 13.5, clip: true, z: 3 - g * 0.1,
            itemStyle: { color: eColors[p][g], opacity: 1 }, data: pts,
          });
        });
        series.push({
          type: "custom", coordinateSystem: "cartesian2d", xAxisIndex: idx, yAxisIndex: idx, clip: true, z: 4,
          data: [[eXRanges[p][0], yMax]],
          renderItem: () => ({
            type: "group",
            children: stats[p].map((t, k) => ({
              type: "text",
              style: {
                text: t, x: eLefts[p] + 5, y: top + (k === 0 ? 15.3 : s2), fontSize: 19, fontFamily: FONT, fill: "#000",
                align: "left", verticalAlign: "middle", textAlign: "left", textVerticalAlign: "middle",
              },
            })),
          }),
        });
      });
    };
    scatterRow([eTopSalivary, eTopLung, eTopSynovium, eTopGut], eTopStats, 592.2, 219.4, -0.0042, 0.161, eTopTicks, (v: number) => v.toFixed(2), false, 44);
    scatterRow([eBottomSalivary, eBottomLung, eBottomSynovium, eBottomGut], eBottomStats, 832, 219, -0.004, 0.306, eBottomTicks, (v: number) => v.toFixed(1), true, 42.7);
    [1441.6, 1565.7, 1690, 1814.6].forEach((x, i) => text(tissueTitles[i], x, 565, 22));
    text("Fraction of fibroblasts", 1285.8, 821, 33, { rotation: Math.PI / 2 });
    text("Standardized Score", 1628, 1138.6, 33);
    text("CXCL10+CCL19+ C11", 1890, 700, 19, { rotation: -Math.PI / 2 });
    text("SPARC+COL3A1+ C4", 1890, 942, 19, { rotation: -Math.PI / 2 });

    // Panel F
    const fIdx = addPanel({
      left: 126.5, top: 1197.6, width: 431.5, height: 590.4, xMin: -3.69, xMax: 6.11, yMin: -3.775, yMax: 8.136, border: "#333",
      xTicks: [-2, 0, 2, 4, 6], xFmt: minus, xSize: 27, xExtra: { margin: 16 },
      yTicks: [0, 4, 8], yFmt: minus, ySize: 27, yMargin: 18,
    });
    const dashed = (data: number[][]) =>
      series.push({
        type: "line", xAxisIndex: fIdx, yAxisIndex: fIdx, data, showSymbol: false, symbol: "none", z: 1,
        lineStyle: { color: "#555", width: 3, type: [12, 10] },
      });
    dashed([[0, -3.775], [0, 8.136]]);
    dashed([[-3.69, 0], [6.11, 0]]);
    dashed([[-3.69, -3.69], [6.11, 6.11]]);
    series.push({
      type: "custom", coordinateSystem: "cartesian2d", xAxisIndex: fIdx, yAxisIndex: fIdx, z: 2, data: fCoreOutline,
      encode: { x: 0, y: 1 },
      renderItem: (params: any, api: any) =>
        params.dataIndex === 0
          ? { type: "polygon", shape: { points: fCoreOutline.map((p) => api.coord(p)) }, style: { fill: "#cccccc" } }
          : null,
    });
    const ring = (data: number[][], size: number, color: string, width: number, z: number) =>
      series.push({
        type: "scatter", xAxisIndex: fIdx, yAxisIndex: fIdx, data, symbolSize: size, z,
        itemStyle: { color: "rgba(0,0,0,0)", borderColor: color, borderWidth: width, opacity: 1 },
      });
    [fCloudFar, fCloudUpper, fCloudLeft, fCloudLower, fCloudEdge, fHighlighted].forEach((d) => ring(d, 6.6, "#cccccc", 2.2, 3));
    ring(fHighlighted, 15, "#8b1a1a", 1.8, 4);
    series.push({
      type: "custom", coordinateSystem: "cartesian2d", xAxisIndex: fIdx, yAxisIndex: fIdx, z: 5, data: fConnectors,
      encode: { x: [0, 2], y: [1, 3] },
      renderItem: (_: any, api: any) => {
        const a = api.coord([api.value(0), api.value(1)]);
        const b = api.coord([api.value(2), api.value(3)]);
        return { type: "line", shape: { x1: a[0], y1: a[1], x2: b[0], y2: b[1] }, style: { stroke: "#000", lineWidth: 2.5 } };
      },
    });
    series.push({
      type: "custom", coordinateSystem: "cartesian2d", xAxisIndex: fIdx, yAxisIndex: fIdx, z: 6,
      data: fGeneNames.map((_, i) => [fGeneX[i], fGeneY[i], i]), encode: { x: 0, y: 1 },
      renderItem: (_: any, api: any) => {
        const c = api.coord([api.value(0), api.value(1)]);
        return {
          type: "text",
          style: {
            text: fGeneNames[api.value(2)], x: c[0], y: c[1], fontSize: 30, fontFamily: FONT, fill: "#000",
            align: "center", verticalAlign: "middle", textAlign: "center", textVerticalAlign: "middle",
          },
        };
      },
    });
    text("logFC z\u2212score", 342, 1854, 33);
    text("SPARC+COL3A1+ C4", 342, 1889, 33);
    text("logFC z\u2212score", 30, 1494, 33, { rotation: Math.PI / 2 });
    text("CXCL10+CCL19+ C11", 65, 1494, 33, { rotation: Math.PI / 2 });

    // Panel G: heat map
    const hGrid = grids.length;
    grids.push({ left: 1001.7, top: 1267, width: 389, height: 413, show: false });
    xAxes.push({
      type: "category", gridIndex: hGrid, data: heatColumns, axisLine: { show: false }, axisTick: { show: false }, splitLine: { show: false },
      axisLabel: { interval: 0, rotate: 90, fontSize: 21.7, fontFamily: FONT, color: "#000", margin: 10 },
    });
    yAxes.push({
      type: "category", gridIndex: hGrid, data: heatRows, inverse: true, position: "right", axisLine: { show: false }, axisTick: { show: false }, splitLine: { show: false },
      axisLabel: { interval: 0, fontSize: 21.9, fontFamily: FONT, color: "#000", margin: 8 },
    });
    const heatSeriesIndex = series.length;
    series.push({
      type: "heatmap", xAxisIndex: hGrid, yAxisIndex: hGrid, progressive: 0,
      data: heatValues.flatMap((row, r) => row.map((v, c) => [c, r, v])),
    });

    // Annotation strip
    const aGrid = grids.length;
    grids.push({ left: 955, top: 1267, width: 39, height: 413, show: false });
    xAxes.push({ type: "value", gridIndex: aGrid, min: 0, max: 1, show: false });
    yAxes.push({ type: "value", gridIndex: aGrid, min: 0, max: 20, inverse: true, show: false });
    series.push({
      type: "custom", coordinateSystem: "cartesian2d", xAxisIndex: aGrid, yAxisIndex: aGrid,
      data: labelGroupRows.map(([s, e], i) => [s, e, i]), encode: { y: [0, 1] },
      renderItem: (_: any, api: any) => {
        const a = api.coord([0, api.value(0)]);
        const b = api.coord([1, api.value(1)]);
        return { type: "rect", shape: { x: a[0], y: a[1], width: b[0] - a[0], height: b[1] - a[1] }, style: { fill: labelGroupColors[api.value(2)] } };
      },
    });

    // Dendrogram
    const dGrid = grids.length;
    grids.push({ left: 1001.7, top: 1185, width: 389, height: 79.3, show: false });
    xAxes.push({ type: "value", gridIndex: dGrid, min: -0.5, max: 13.5, show: false });
    yAxes.push({ type: "value", gridIndex: dGrid, min: 0, max: 238, show: false });
    series.push({
      type: "custom", coordinateSystem: "cartesian2d", xAxisIndex: dGrid, yAxisIndex: dGrid, data: dendroMerges,
      encode: { x: [0, 2], y: [1, 3, 4] },
      renderItem: (_: any, api: any) => {
        const x1 = api.value(0), y1 = api.value(1), x2 = api.value(2), y2 = api.value(3), h = api.value(4);
        return {
          type: "polyline",
          shape: { points: [api.coord([x1, y1]), api.coord([x1, h]), api.coord([x2, h]), api.coord([x2, y2])] },
          style: { stroke: "#000", lineWidth: 2.2, fill: "none" },
        };
      },
    });

    // G legends
    text("Label", 587.5, 1259, 26.5, { align: "left", weight: "bold" });
    const swatchY = [1286, 1317, 1348, 1379];
    labelGroupNames.forEach((n, i) => {
      graphics.push({ type: "rect", shape: { x: 587.5, y: swatchY[i], width: 28.5, height: 28.5 }, style: { fill: labelGroupColors[i] } });
      text(n, 625.6, swatchY[i] + 14, 27.3, { align: "left" });
    });
    text("Normalized", 587.5, 1450, 27, { align: "left", weight: "bold" });
    text("Enrichment", 587.5, 1480, 27, { align: "left", weight: "bold" });
    text("Score", 587.5, 1509, 27, { align: "left", weight: "bold" });
    const scaleY = (v: number) => 1616.7 - v * 19.17;
    const barTop = 1533;
    const barH = scaleY(0) - barTop;
    graphics.push({
      type: "rect", shape: { x: 585.4, y: barTop, width: 33.3, height: barH },
      style: {
        fill: new echarts.graphic.LinearGradient(0, 0, 0, 1, [
          { offset: 0, color: heatPalette[8] },
          ...heatPalette.map((_, i) => ({ offset: (scaleY(4 - i * 0.5) - barTop) / barH, color: heatPalette[8 - i] })),
        ]),
      },
    });
    [4, 2].forEach((v) => {
      const y = scaleY(v);
      graphics.push({ type: "line", shape: { x1: 585.4, y1: y, x2: 592, y2: y }, style: { stroke: "#fff", lineWidth: 1.5 } });
      graphics.push({ type: "line", shape: { x1: 612, y1: y, x2: 618.7, y2: y }, style: { stroke: "#fff", lineWidth: 1.5 } });
    });
    scaleLabels.forEach((v) => text(minus(v), 625, scaleY(v), 27, { align: "left" }));

    // Panel letters
    ([["A", 6, 20], ["B", 969, 20], ["C", 11, 554], ["D", 1019, 554], ["E", 1271, 554], ["F", 9, 1182], ["G", 574, 1183]] as any[]).forEach(([l, x, y]) =>
      text(l, x, y, 32, { align: "left", weight: "bold" })
    );

    chart.setOption({
      animation: false,
      backgroundColor: "#ffffff",
      textStyle: { fontFamily: FONT },
      grid: grids,
      xAxis: xAxes,
      yAxis: yAxes,
      series,
      graphic: { elements: graphics },
      visualMap: {
        show: false, seriesIndex: heatSeriesIndex, min: 0, max: 4, dimension: 2, calculable: false,
        inRange: { color: heatPalette },
      },
    });
    return () => chart.dispose();
  }, []);
  return <div ref={ref} style={{ width: 1920, height: 1916 }} />;
}
